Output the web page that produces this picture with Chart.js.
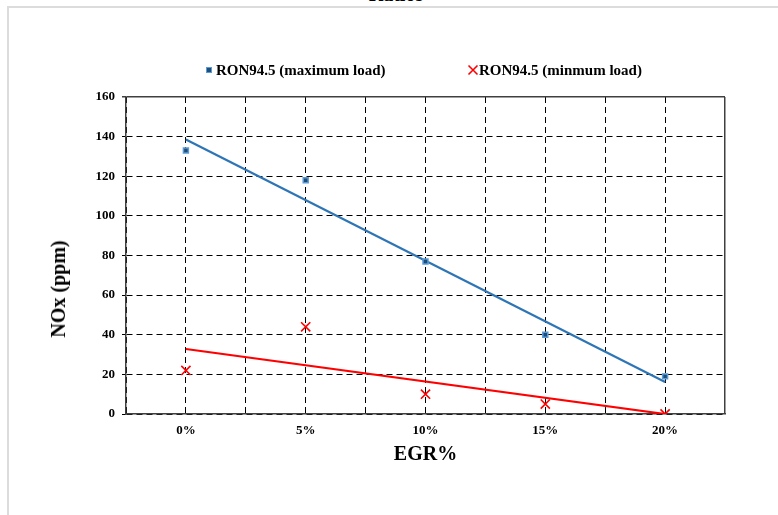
<!DOCTYPE html>
<html lang="en">
<head>
<meta charset="UTF-8">
<title>NOx vs EGR%</title>
<script src="https://cdn.jsdelivr.net/npm/chart.js"></script>
<style>
  html, body { margin: 0; padding: 0; background: #fff; overflow: hidden; }
  body { width: 778px; height: 515px; position: relative; font-family: "Liberation Serif", "Times New Roman", serif; }
  #frame { position: absolute; left: 7px; top: 6px; width: 820px; height: 560px; border: 2px solid #dcdcdc; box-sizing: border-box; }
  #title { position: absolute; top: -18px; left: 0; width: 792px; text-align: center; font-weight: bold; font-size: 20px; line-height: 24px; }
  #chart { position: absolute; left: 0; top: 0; }
  .legend { position: absolute; top: 60px; font-weight: bold; font-size: 15px; line-height: 20px; white-space: nowrap; color: #000; }
  .sq { display: inline-block; width: 4px; height: 4px; background: #1f4e79; border: 1.5px solid #5b9bd5; vertical-align: 2px; margin-right: 4px; }
  .xm { display: inline-block; vertical-align: -1px; }
  #ytitle { position: absolute; left: 58px; top: 289px; transform: translate(-50%, -50%) rotate(-90deg); font-weight: bold; font-size: 20px; line-height: 24px; white-space: nowrap; color: #000; }
</style>
</head>
<body>
  <div id="frame"></div>
  <div id="title">Ratios</div>
  <canvas id="chart" width="778" height="515"></canvas>
  <div class="legend" style="left:206px"><span class="sq"></span>RON94.5 (maximum load)</div>
  <div class="legend" style="left:467px"><svg class="xm" width="12" height="12" viewBox="0 0 12 12"><path d="M1.5 1.5 L10.5 10.5 M10.5 1.5 L1.5 10.5" stroke="#ff0000" stroke-width="1.6" fill="none"/></svg>RON94.5 (minmum load)</div>
  <div id="ytitle">NOx (ppm)</div>

<script>
  const categories = ['0%', '5%', '10%', '15%', '20%'];
  const noxMaxLoad = [133, 118, 77, 40, 19];
  const noxMinLoad = [22, 44, 10, 5, 0];
  // linear trend lines, values at 0% and 20%
  const trendMaxLoad = [138.6, 16.2];
  const trendMinLoad = [32.8, 0];
  const yMin = 0, yMax = 160, yStep = 20;

  const serif = '"Liberation Serif", "Times New Roman", serif';
  const last = categories.length - 1;

  const toPoints = arr => arr.map((v, i) => ({ x: i, y: v }));
  const toTrend = arr => [{ x: 0, y: arr[0] }, { x: last, y: arr[1] }];

  const dashed = [6, 4];

  new Chart(document.getElementById('chart').getContext('2d'), {
    type: 'scatter',
    data: {
      datasets: [
        {
          label: 'RON94.5 (maximum load)',
          data: toPoints(noxMaxLoad),
          pointStyle: 'rect',
          pointRadius: 3.5,
          backgroundColor: '#1f4e79',
          borderColor: '#5b9bd5',
          borderWidth: 1.5,
          order: 0
        },
        {
          label: 'RON94.5 (minmum load)',
          data: toPoints(noxMinLoad),
          pointStyle: 'crossRot',
          pointRadius: 6.5,
          borderColor: '#ff0000',
          backgroundColor: '#ff0000',
          borderWidth: 1.6,
          order: 0
        },
        {
          label: 'trend max',
          data: toTrend(trendMaxLoad),
          showLine: true,
          pointRadius: 0,
          borderColor: '#2e75b6',
          borderWidth: 2.2,
          order: 1
        },
        {
          label: 'trend min',
          data: toTrend(trendMinLoad),
          showLine: true,
          pointRadius: 0,
          borderColor: '#ff0000',
          borderWidth: 2.2,
          order: 1
        }
      ]
    },
    options: {
      responsive: false,
      animation: false,
      layout: { padding: { left: 42, right: 53, top: 97, bottom: 46 } },
      plugins: { legend: { display: false }, tooltip: { enabled: false } },
      scales: {
        x: {
          type: 'linear',
          min: -0.5,
          max: last + 0.5,
          afterFit(s) { s.height = 55; },
          ticks: {
            stepSize: 0.5,
            autoSkip: false,
            maxRotation: 0,
            padding: 9,
            color: '#000',
            font: { family: serif, size: 13, weight: 'bold' },
            callback: v => Number.isInteger(v) ? categories[v] : ''
          },
          grid: {
            drawTicks: false,
            color: c => (c.tick && c.tick.value === last + 0.5) ? '#404040' : '#000',
            lineWidth: c => (c.tick && c.tick.value === last + 0.5) ? 1.5 : 1
          },
          border: {
            color: '#404040',
            width: 1.5,
            dash: c => (c.tick && c.tick.value === last + 0.5) ? [] : dashed
          },
          title: {
            display: true,
            text: 'EGR%',
            color: '#000',
            font: { family: serif, size: 20, weight: 'bold' },
            padding: { top: 0, bottom: 2 }
          }
        },
        y: {
          min: yMin,
          max: yMax,
          afterFit(s) { s.width = 84; },
          ticks: {
            stepSize: yStep,
            padding: 7,
            color: '#000',
            font: { family: serif, size: 13, weight: 'bold' }
          },
          grid: {
            tickLength: 4,
            color: c => (c.tick && c.tick.value === yMax) ? '#404040' : '#000',
            lineWidth: c => (c.tick && c.tick.value === yMax) ? 1.5 : 1
          },
          border: {
            color: '#404040',
            width: 1.5,
            dash: c => (c.tick && c.tick.value === yMax) ? [] : dashed
          }
        }
      }
    }
  });
</script>
</body>
</html>
